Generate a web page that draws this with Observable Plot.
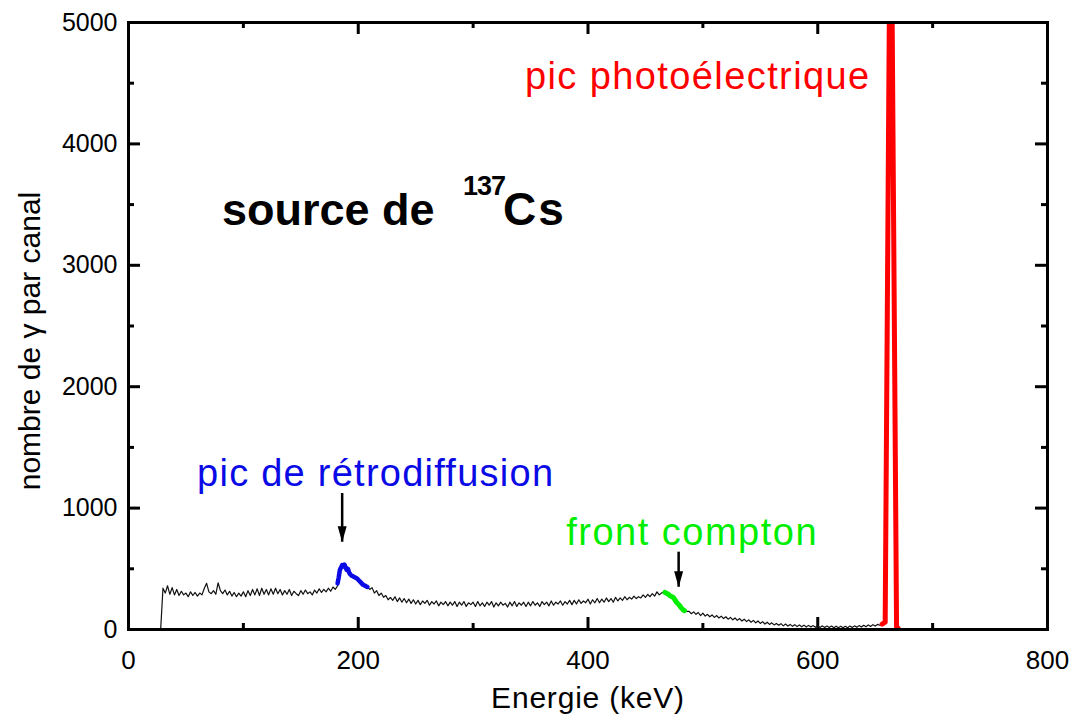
<!DOCTYPE html>
<html>
<head>
<meta charset="utf-8">
<script src="https://cdn.jsdelivr.net/npm/d3@7"></script>
<script src="https://cdn.jsdelivr.net/npm/@observablehq/plot@0.6"></script>
<style>
  html, body { margin: 0; padding: 0; background: #fff; }
  #chart svg { display: block; }
</style>
</head>
<body>
<div id="chart"></div>
<script>
// ---------- data ----------
// gamma spectrum of Cs-137, channel calibration: 2 keV per channel starting at 28 keV
const spectrumStart = 28;
const channelWidth = 2;
const spectrumCounts = [
  0, 340, 300, 360, 290, 345, 285, 330, 280, 315,
  285, 300, 270, 310, 280, 305, 275, 300, 285, 340,
  380, 310, 295, 320, 290, 385, 320, 295, 325, 285,
  315, 275, 305, 270, 300, 275, 310, 270, 320, 280,
  330, 285, 335, 280, 340, 290, 330, 285, 335, 290,
  340, 295, 330, 285, 320, 290, 330, 280, 315, 295,
  280, 320, 290, 325, 295, 310, 285, 325, 300, 335,
  305, 330, 310, 340, 315, 350, 330, 360, 470, 530,
  520, 480, 490, 455, 440, 430, 420, 400, 380, 365,
  350, 330, 345, 300, 320, 280, 300, 265, 280, 245,
  265, 240, 270, 230, 260, 225, 255, 220, 250, 215,
  245, 210, 240, 205, 235, 215, 240, 200, 230, 210,
  235, 195, 225, 205, 230, 195, 225, 200, 230, 190,
  225, 200, 230, 190, 220, 205, 225, 190, 230, 195,
  220, 190, 225, 200, 230, 185, 220, 195, 225, 200,
  215, 185, 225, 195, 230, 190, 220, 200, 225, 190,
  225, 195, 230, 200, 220, 190, 230, 205, 225, 195,
  235, 200, 225, 210, 235, 200, 230, 210, 240, 205,
  240, 210, 245, 215, 235, 220, 250, 210, 245, 220,
  255, 220, 250, 225, 260, 230, 255, 225, 265, 235,
  260, 240, 270, 245, 265, 250, 275, 255, 270, 260,
  285, 265, 290, 270, 295, 275, 310, 285, 300, 310,
  295, 280, 265, 250, 235, 205, 180, 170, 160, 150,
  150, 130, 145, 125, 140, 115, 135, 110, 125, 105,
  120, 100, 115, 95, 110, 90, 105, 85, 100, 80,
  95, 75, 90, 70, 85, 65, 80, 60, 75, 55,
  70, 50, 65, 45, 60, 42, 55, 38, 50, 35,
  48, 30, 45, 28, 42, 26, 40, 24, 38, 22,
  36, 20, 34, 20, 32, 18, 30, 17, 30, 16,
  28, 16, 28, 15, 27, 14, 26, 14, 26, 15,
  28, 16, 30, 18, 32, 20, 35, 22, 38, 25,
  40, 28, 42, 35, 45
];

// back-scatter peak (blue)
const backscatterEnergy = [182, 183, 184, 185, 186, 187, 188, 189, 190, 191, 192, 193, 194, 195, 196, 197, 198, 199, 200, 201, 202, 203, 204, 205, 206, 207, 208];
const backscatterCounts = [380, 430, 490, 510, 530, 520, 535, 510, 490, 500, 470, 455, 445, 440, 435, 430, 425, 420, 410, 400, 390, 380, 370, 365, 360, 355, 350];

// Compton edge (green)
const comptonEnergy = [467, 468, 469, 470, 471, 472, 473, 474, 475, 476, 477, 478, 479, 480, 481, 482, 483, 484];
const comptonCounts = [305, 300, 295, 290, 280, 275, 270, 265, 255, 240, 225, 215, 205, 195, 180, 170, 160, 155];

// photo-electric peak (red)
const photoEnergy = [656, 658.7, 663.5, 668.6, 670];
const photoCounts = [45, 60, 6700, 20, 10];

// axes
const xMajorTicks = [0, 200, 400, 600, 800];
const xMinorTicks = [100, 300, 500, 700];
const yMajorTicks = [0, 1000, 2000, 3000, 4000, 5000];
const yMinorTicks = [500, 1500, 2500, 3500, 4500];

// texts
const xLabel = "Energie (keV)";
const yLabel = "nombre de \u03b3 par canal";
const photoLabel = "pic photoélectrique";
const backscatterLabel = "pic de rétrodiffusion";
const comptonLabel = "front compton";

// ---------- build ----------
const spectrum = spectrumCounts.map((c, i) => ({e: spectrumStart + i * channelWidth, c}));
const backscatter = backscatterEnergy.map((e, i) => ({e, c: backscatterCounts[i]}));
const compton = comptonEnergy.map((e, i) => ({e, c: comptonCounts[i]}));
const photo = photoEnergy.map((e, i) => ({e, c: photoCounts[i]}));
const arrows = [{x: 186, y1: 1120, y2: 719}, {x: 478.9, y1: 637, y2: 348}];

const W = 1073, H = 722, ML = 128, MR = 26, MT = 22, MB = 93;
const PW = W - ML - MR, PH = H - MT - MB;
const FONT = "'Liberation Sans', Arial, Helvetica, sans-serif";

// narrow filled arrow head, tip at the origin, pointing down
const arrowHead = {
  draw(context) {
    context.moveTo(0, 0);
    context.lineTo(-4.5, -16);
    context.lineTo(4.5, -16);
    context.closePath();
  }
};

const chart = Plot.plot({
  width: W, height: H,
  marginLeft: ML, marginRight: MR, marginTop: MT, marginBottom: MB,
  style: {fontFamily: FONT, fontSize: "25px", color: "#000", background: "#fff"},
  x: {domain: [0, 800]},
  y: {domain: [0, 5000]},
  marks: [
    // ticks (inward)
    Plot.ruleX(xMajorTicks, {insetTop: PH - 12, strokeWidth: 3, stroke: "#000"}),
    Plot.ruleX(xMinorTicks, {insetTop: PH - 6, strokeWidth: 3, stroke: "#000"}),
    Plot.ruleX(xMajorTicks, {insetBottom: PH - 12, strokeWidth: 3, stroke: "#000"}),
    Plot.ruleX(xMinorTicks, {insetBottom: PH - 6, strokeWidth: 3, stroke: "#000"}),
    Plot.ruleY(yMajorTicks, {insetRight: PW - 12, strokeWidth: 3, stroke: "#000"}),
    Plot.ruleY(yMinorTicks, {insetRight: PW - 6, strokeWidth: 3, stroke: "#000"}),
    Plot.ruleY(yMajorTicks, {insetLeft: PW - 12, strokeWidth: 3, stroke: "#000"}),
    Plot.ruleY(yMinorTicks, {insetLeft: PW - 6, strokeWidth: 3, stroke: "#000"}),
    Plot.axisX(xMajorTicks, {tickSize: 0, tickPadding: 21, fontSize: 26, label: null, tickFormat: d => String(d)}),
    Plot.axisY(yMajorTicks, {tickSize: 0, tickPadding: 11, fontSize: 25, label: null, tickFormat: d => String(d)}),
    // spectrum
    Plot.line(spectrum, {x: "e", y: "c", stroke: "#111", strokeWidth: 1.2, clip: true}),
    Plot.line(backscatter, {x: "e", y: "c", stroke: "#0a0ae6", strokeWidth: 4.5, clip: true}),
    Plot.line(compton, {x: "e", y: "c", stroke: "#00ee00", strokeWidth: 5, clip: true}),
    Plot.line(photo, {x: "e", y: "c", stroke: "#ff0000", strokeWidth: 5, clip: true}),
    Plot.frame({stroke: "#000", strokeWidth: 3}),
    // arrows
    Plot.ruleX(arrows, {x: "x", y1: "y1", y2: "y2", stroke: "#000", strokeWidth: 2.5}),
    Plot.dot(arrows, {x: "x", y: "y2", symbol: arrowHead, fill: "#000", stroke: "none", r: 5}),
    // annotations
    Plot.text([photoLabel], {x: 646, y: 4456, text: d => d, textAnchor: "end", lineAnchor: "bottom", fill: "#ff0000", fontSize: 38}),
    Plot.text([backscatterLabel], {x: 59.7, y: 1186, text: d => d, textAnchor: "start", lineAnchor: "bottom", fill: "#0a0ae6", fontSize: 38}),
    Plot.text([comptonLabel], {x: 381, y: 692, text: d => d, textAnchor: "start", lineAnchor: "bottom", fill: "#00ee00", fontSize: 38}),
    Plot.text(["source de"], {x: 81.4, y: 3328, text: d => d, textAnchor: "start", lineAnchor: "bottom", fill: "#000", fontSize: 45, fontWeight: "bold"}),
    Plot.text(["137"], {x: 81.4, y: 3328, dx: 241, dy: -30, text: d => d, textAnchor: "start", lineAnchor: "bottom", fill: "#000", fontSize: 27, fontWeight: "bold"}),
    Plot.text(["Cs"], {x: 81.4, y: 3328, dx: 281, text: d => d, textAnchor: "start", lineAnchor: "bottom", fill: "#000", fontSize: 46, fontWeight: "bold"}),
    // axis titles
    Plot.text([xLabel], {frameAnchor: "bottom", dy: 69, text: d => d, textAnchor: "middle", lineAnchor: "middle", fontSize: 30, fill: "#000"}),
    Plot.text([yLabel], {frameAnchor: "left", dx: -98, dy: 15, rotate: -90, text: d => d, textAnchor: "middle", lineAnchor: "middle", fontSize: 30, fill: "#000"})
  ]
});

const spacing = new Map([
  [photoLabel, "1.4px"], [backscatterLabel, "1.25px"], [comptonLabel, "1.5px"],
  [xLabel, "0.8px"], ["137", "-1px"], ["Cs", "2px"]
]);
d3.select(chart).selectAll("text").each(function () {
  const t = this.textContent;
  if (spacing.has(t)) this.style.letterSpacing = spacing.get(t);
});

document.getElementById("chart").appendChild(chart);
</script>
</body>
</html>
